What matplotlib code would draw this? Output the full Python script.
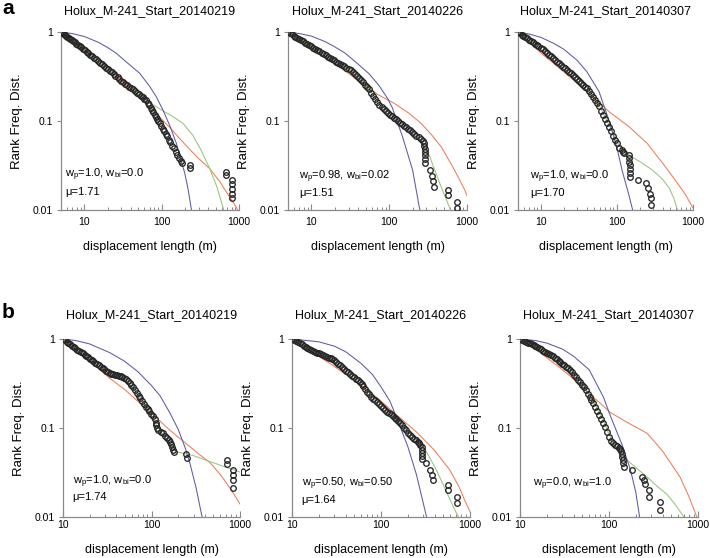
import matplotlib
matplotlib.use("Agg")
import matplotlib.pyplot as plt
from matplotlib.ticker import LogLocator, NullFormatter, FixedLocator, FixedFormatter, NullLocator

plt.rcParams['font.family'] = ['Liberation Sans', 'DejaVu Sans']
plt.rcParams['mathtext.fontset'] = 'custom'
plt.rcParams['mathtext.rm'] = 'Liberation Sans'
plt.rcParams['mathtext.it'] = 'Liberation Sans:italic'

# ---------------- data ----------------
titles = ["Holux_M-241_Start_20140219", "Holux_M-241_Start_20140226", "Holux_M-241_Start_20140307",
          "Holux_M-241_Start_20140219", "Holux_M-241_Start_20140226", "Holux_M-241_Start_20140307"]
weights_text = [r"w$_\mathregular{p}$=1.0, w$_\mathregular{bi}$=0.0",
                r"w$_\mathregular{p}$=0.98, w$_\mathregular{bi}$=0.02",
                r"w$_\mathregular{p}$=1.0, w$_\mathregular{bi}$=0.0",
                r"w$_\mathregular{p}$=1.0, w$_\mathregular{bi}$=0.0",
                r"w$_\mathregular{p}$=0.50, w$_\mathregular{bi}$=0.50",
                r"w$_\mathregular{p}$=0.0, w$_\mathregular{bi}$=1.0"]
mu_text = ["\u03bc=1.71", "\u03bc=1.51", "\u03bc=1.70", "\u03bc=1.74", "\u03bc=1.64", ""]
xtick_vals = [10, 100, 1000]
xtick_labels = ["10", "100", "1000"]
ytick_vals = [0.01, 0.1, 1]
ytick_labels = ["0.01", "0.1", "1"]
xlims = [(5, 1000), (5, 1000), (5, 1000), (10, 1000), (10, 1000), (10, 1000)]

a1_x = [5.0,5.2,5.4,5.6,5.8,6.0,6.3,6.6,6.9,7.2,7.5,7.9,8.3,8.7,9.1,9.6,
        10.1,10.7,11.3,12.0,12.7,13.4,14.2,15.0,15.9,16.8,17.8,18.9,20.0,21.2,22.5,23.9,25.3,26.9,28.5,30.2,32.0,
        34.0,36.0,38.2,40.5,43.0,45.5,48.0,51.0,54.0,57.0,60.0,63.0,
        66.0,69.0,72.0,75.0,78.0,81.0,84.0,87.0,90.0,94.0,
        98.0,103,108,113,118,124,130,137,144,152,160,168,176,182,
        231,233,676,680,800,803,805,803,800]
a1_y = [1.0,0.974,0.95,0.928,0.906,0.886,0.858,0.831,0.807,0.785,0.764,0.738,0.714,0.691,0.671,0.648,
        0.628,0.601,0.578,0.554,0.531,0.515,0.494,0.471,0.452,0.435,0.417,0.399,0.383,0.367,0.352,0.337,0.324,0.310,0.297,0.285,0.273,
        0.262,0.252,0.242,0.236,0.228,0.215,0.208,0.199,0.192,0.185,0.178,0.172,
        0.160,0.150,0.141,0.132,0.125,0.118,0.112,0.106,0.101,0.094,
        0.0885,0.0817,0.078,0.0707,0.068,0.061,0.058,0.0521,0.0495,0.0443,0.0415,0.038,0.0355,0.0334,
        0.032,0.0294,0.027,0.0247,0.0217,0.0194,0.0171,0.0151,0.0135]

a2_x = [5.0,5.3,5.6,5.9,6.2,6.6,7.0,7.4,7.8,8.3,8.8,9.3,9.9,
        10.5,11.2,11.9,12.7,13.5,14.4,15.3,16.3,17.3,18.4,
        19.6,20.8,22.1,23.5,25.0,26.5,28.2,30.0,
        31.9,33.9,36.0,38.3,40.7,43.3,46.0,48.9,52.0,
        55.3,58.8,62.5,66.4,70.6,75.0,
        79.7,84.7,90.0,95.7,102,108,115,
        122,130,138,147,156,166,176,187,199,211,224,238,253,269,
        281,284,285,286,286,287,288,
        331,355,363,380,575,578,735,738]
a2_y = [1.0,0.969,0.94,0.913,0.889,0.859,0.832,0.807,0.784,0.758,0.734,0.712,0.688,
        0.667,0.644,0.624,0.604,0.585,0.565,0.547,0.530,0.513,0.497,
        0.481,0.466,0.451,0.438,0.424,0.411,0.398,0.386,
        0.373,0.354,0.336,0.318,0.302,0.286,0.271,0.257,0.244,
        0.226,0.209,0.192,0.178,0.164,0.152,
        0.142,0.136,0.130,0.124,0.118,0.113,0.108,
        0.104,0.0997,0.096,0.0922,0.0888,0.0853,0.082,0.0785,0.075,0.0718,0.0687,0.0656,0.0628,0.060,
        0.057,0.053,0.049,0.045,0.041,0.037,0.034,
        0.028,0.024,0.021,0.0183,0.0168,0.0148,0.0124,0.0105]

a3_x = [5.0,5.3,5.6,5.9,6.2,6.6,7.0,7.4,7.8,8.3,8.8,9.3,9.9,
        10.5,11.2,11.9,12.7,13.5,14.4,15.3,16.3,17.3,
        18.4,19.6,20.8,22.1,23.5,25.0,26.5,28.2,
        30.0,31.9,33.9,36.0,38.3,40.7,
        43.3,46.0,48.9,52.0,55.3,58.8,
        62.5,66.4,70.6,75.0,79.7,
        84.7,90.0,95.7,100,
        108,115,120,125,
        145,146,146,147,147,148,148,
        189,244,256,269,278,284]
a3_y = [1.0,0.966,0.935,0.906,0.879,0.847,0.818,0.791,0.766,0.739,0.713,0.690,0.665,
        0.638,0.609,0.583,0.556,0.532,0.508,0.486,0.464,0.445,
        0.426,0.407,0.390,0.374,0.358,0.343,0.329,0.315,
        0.299,0.284,0.270,0.257,0.244,0.232,
        0.220,0.203,0.187,0.172,0.158,0.146,
        0.131,0.118,0.106,0.096,0.0863,
        0.0769,0.0685,0.0608,0.056,
        0.050,0.047,0.045,0.044,
        0.0417,0.038,0.035,0.032,0.029,0.026,0.0237,
        0.0217,0.020,0.0175,0.0153,0.0135,0.0113]

b1_x = [10.0,10.5,11.0,11.5,12.0,12.6,13.2,13.8,14.5,15.2,15.9,16.7,17.5,18.3,19.2,20.1,21.1,22.1,23.2,24.3,25.5,26.7,28.0,29.3,30.7,32.2,33.7,
        35.3,37.0,38.8,40.7,42.6,44.7,46.8,
        49.1,51.4,53.9,56.5,59.2,62.0,
        65.0,68.1,71.4,74.8,78.4,
        82.1,86.1,90.2,94.5,99.0,104,
        109,111,113,115,118,128,135,143,150,158,163,166,172,176,178,
        248,251,705,708,826,826,828,830]
b1_y = [1.0,0.965,0.933,0.903,0.875,0.845,0.816,0.790,0.762,0.737,0.713,0.688,0.665,0.643,0.621,0.601,0.580,0.561,0.541,0.523,0.505,0.488,0.472,0.456,0.441,0.426,0.412,
        0.406,0.402,0.397,0.392,0.388,0.383,0.379,
        0.368,0.351,0.335,0.319,0.304,0.290,
        0.269,0.250,0.231,0.215,0.199,
        0.185,0.174,0.163,0.154,0.144,0.135,
        0.125,0.115,0.108,0.100,0.095,0.090,0.087,0.082,0.078,0.074,0.070,0.066,0.061,0.057,0.054,
        0.0516,0.0466,0.0434,0.039,0.034,0.030,0.0258,0.0214]

b2_x = [10.0,10.5,11.0,11.6,12.2,12.8,13.5,14.2,14.9,15.7,16.5,
        17.3,18.2,19.1,20.1,21.1,22.2,23.3,24.5,25.8,27.1,28.5,30.0,
        31.5,33.1,34.8,36.6,38.5,
        40.5,42.6,44.8,47.1,49.5,52.0,54.7,57.5,60.4,
        63.5,66.8,70.2,73.8,77.6,
        81.6,85.8,90.2,94.8,99.7,105,110,
        116,122,128,135,142,149,
        157,165,173,182,191,201,
        211,222,233,245,258,265,
        274,286,286,287,287,288,
        324,355,372,380,570,572,720,722]
b2_y = [1.0,0.972,0.947,0.919,0.893,0.869,0.843,0.819,0.797,0.773,0.752,
        0.736,0.720,0.705,0.689,0.675,0.660,0.646,0.632,0.618,0.604,0.591,0.580,
        0.555,0.530,0.506,0.483,0.461,
        0.442,0.423,0.405,0.388,0.372,0.357,0.342,0.328,0.315,
        0.294,0.275,0.257,0.241,0.225,
        0.214,0.204,0.194,0.185,0.176,0.167,0.160,
        0.153,0.147,0.142,0.137,0.131,0.127,
        0.121,0.114,0.107,0.1005,0.0946,0.0887,
        0.0842,0.080,0.0762,0.0725,0.0689,0.067,
        0.064,0.061,0.057,0.053,0.049,0.045,
        0.040,0.0335,0.0295,0.026,0.0227,0.020,0.0168,0.0144]

b3_x = [10.0,10.5,11.0,11.6,12.2,12.8,13.5,14.2,14.9,
        15.7,16.5,17.3,18.2,19.1,20.1,21.1,22.2,23.3,
        24.5,25.8,27.1,28.5,30.0,31.5,33.1,34.8,36.6,
        38.5,40.5,42.6,44.8,47.1,49.5,
        52.0,54.7,57.5,60.4,63.5,66.8,
        70.2,73.8,77.6,81.6,85.8,
        90.2,94.8,99.7,104,
        110,116,123,128,134,138,140,141,142,144,146,
        181,234,245,256,279,280,377,378]
b3_y = [1.0,0.978,0.957,0.934,0.913,0.893,0.871,0.851,0.833,
        0.811,0.786,0.764,0.741,0.719,0.697,0.677,0.656,0.637,
        0.615,0.590,0.568,0.546,0.525,0.505,0.486,0.467,0.450,
        0.422,0.395,0.371,0.348,0.326,0.306,
        0.287,0.264,0.243,0.224,0.206,0.190,
        0.172,0.156,0.141,0.127,0.115,
        0.102,0.090,0.0793,0.0711,
        0.067,0.064,0.062,0.060,0.058,0.055,0.051,0.047,0.044,0.040,0.036,
        0.0335,0.028,0.0258,0.0237,0.020,0.0168,0.0147,0.0121]

# fitted curves (blue, green, red)
a1_blue_x = [5,7,10,15,20,26,35,52,70,85,104,130,155,180,199,220,243,250]
a1_blue_y = [1,0.96,0.89,0.77,0.67,0.576,0.46,0.344,0.245,0.188,0.133,0.085,0.056,0.035,0.026,0.017,0.0100,0.0085]
a1_green_x = [5,7,10,15,20,30,40,50,63,80,104,140,189,250,320,420,520,625,650]
a1_green_y = [1,0.8,0.64,0.49,0.4,0.3,0.24,0.2,0.172,0.15,0.13,0.112,0.094,0.07,0.048,0.029,0.018,0.0105,0.009]
a1_red_x = [5,10,20,40,60,77,100,130,162,220,300,420,560,720,935,1000]
a1_red_y = [1,0.62,0.38,0.23,0.165,0.133,0.105,0.083,0.067,0.05,0.038,0.029,0.021,0.015,0.0105,0.0095]

a2_blue_x = [5,7,10,15,20,27,37,55,74,95,110,148,200,245,260]
a2_blue_y = [1,0.96,0.9,0.78,0.68,0.58,0.46,0.34,0.25,0.18,0.14,0.067,0.028,0.0105,0.0085]
a2_green_x = [5,10,20,32,52,78,116,173,259,331,446,600,620]
a2_green_y = [1,0.69,0.48,0.375,0.245,0.15,0.108,0.083,0.058,0.04,0.02,0.0105,0.0095]
a2_red_x = [5,10,20,35,52,70,116,180,257,350,468,650,800,935,1000]
a2_red_y = [1,0.66,0.44,0.31,0.243,0.2,0.158,0.122,0.094,0.07,0.051,0.031,0.022,0.0168,0.0145]

a3_blue_x = [5,7,10,15,20,30,40,58,79,100,118,140,161,165]
a3_blue_y = [1,0.95,0.87,0.74,0.64,0.48,0.36,0.215,0.1,0.05,0.027,0.016,0.01,0.0093]
a3_green_x = [5,7,10,15,20,30,43,59,80,100,108,145,200,295,400,490,560,630,650]
a3_green_y = [1,0.88,0.7,0.52,0.42,0.31,0.225,0.148,0.088,0.06,0.052,0.041,0.035,0.028,0.022,0.0175,0.0135,0.0098,0.009]
a3_red_x = [5,7,10,15,23.7,35,53,80,145,250,400,600,800,1000]
a3_red_y = [1,0.77,0.58,0.44,0.315,0.235,0.172,0.126,0.086,0.056,0.0335,0.021,0.0148,0.0105]

b1_blue_x = [10,14,20,34,50,70,100,125,160,200,240,272,320,369,380]
b1_blue_y = [1,0.96,0.88,0.7,0.56,0.43,0.3,0.23,0.15,0.097,0.06,0.04,0.021,0.0105,0.0095]
b1_green_x = [10,14,20,34,50,60,80,105,140,191,296,456,770,1000]
b1_green_y = [1,0.83,0.65,0.44,0.34,0.29,0.2,0.123,0.08,0.054,0.049,0.042,0.035,0.032]
b1_red_x = [10,20,34,50,74,100,162,250,350,456,600,800,1000]
b1_red_y = [1,0.565,0.36,0.27,0.19,0.147,0.094,0.066,0.05,0.041,0.03,0.02,0.014]

b2_blue_x = [10,20,30,40,60,80,100,126,150,200,250,300,325,335]
b2_blue_y = [1,0.93,0.83,0.72,0.53,0.4,0.29,0.2,0.13,0.062,0.03,0.014,0.01,0.0088]
b2_green_x = [10,15,20,30,40,60,80,111,155,204,251,320,400,457,560,650,760]
b2_green_y = [1,0.8,0.69,0.55,0.46,0.33,0.245,0.17,0.12,0.09,0.073,0.055,0.037,0.028,0.018,0.013,0.0095]
b2_red_x = [10,20,30,45,65,97,150,251,400,596,750,870,1000]
b2_red_y = [1,0.64,0.49,0.37,0.28,0.206,0.14,0.09,0.056,0.0335,0.022,0.0155,0.0115]

b3_blue_x = [10,15,20,30,40,60,87,100,120,140,174,200,219,222]
b3_blue_y = [1,0.96,0.9,0.77,0.64,0.45,0.22,0.15,0.095,0.065,0.034,0.019,0.0105,0.0095]
b3_green_x = [10,15,23.7,36.6,51.6,67,87,100,112,150,200,269,350,447,550,650,725]
b3_green_y = [1,0.84,0.64,0.46,0.3,0.2,0.12,0.085,0.067,0.046,0.036,0.028,0.022,0.018,0.014,0.011,0.0095]
b3_red_x = [10,15.4,25,37,55,80,103,150,269,400,630,800,935,1000]
b3_red_y = [1,0.75,0.52,0.38,0.26,0.189,0.15,0.12,0.087,0.055,0.028,0.0165,0.011,0.0092]

points = [(a1_x, a1_y), (a2_x, a2_y), (a3_x, a3_y), (b1_x, b1_y), (b2_x, b2_y), (b3_x, b3_y)]
blues = [(a1_blue_x, a1_blue_y), (a2_blue_x, a2_blue_y), (a3_blue_x, a3_blue_y),
         (b1_blue_x, b1_blue_y), (b2_blue_x, b2_blue_y), (b3_blue_x, b3_blue_y)]
greens = [(a1_green_x, a1_green_y), (a2_green_x, a2_green_y), (a3_green_x, a3_green_y),
          (b1_green_x, b1_green_y), (b2_green_x, b2_green_y), (b3_green_x, b3_green_y)]
reds = [(a1_red_x, a1_red_y), (a2_red_x, a2_red_y), (a3_red_x, a3_red_y),
        (b1_red_x, b1_red_y), (b2_red_x, b2_red_y), (b3_red_x, b3_red_y)]

for grp in (points, blues, greens, reds):
    for xs, ys in grp:
        assert len(xs) == len(ys), (len(xs), len(ys))

# ---------------- layout (pixel boxes: left, right, top, bottom) ----------------
W, H = 710, 558
boxes = [(61, 239, 32, 210), (288, 467, 32, 210), (518, 693, 32, 210),
         (63, 240, 339, 517), (292, 470, 339, 517), (520, 698, 339, 517)]
text_pos = [(0.022, 0.197, 0.103), (0.063, 0.187, 0.094), (0.069, 0.187, 0.094),
            (0.054, 0.198, 0.114), (0.054, 0.189, 0.096), (0.075, 0.189, 0.096)]

BLUE = '#5b5ba6'
GREEN = '#97c47a'
RED = '#ee7d57'
SPINE = '#8a8a8a'

fig = plt.figure(figsize=(W / 100, H / 100), dpi=100)

for i in range(6):
    l, r, t, b = boxes[i]
    ax = fig.add_axes([l / W, (H - b) / H, (r - l) / W, (b - t) / H])
    ax.set_xscale('log')
    ax.set_yscale('log')
    bx, by = blues[i]
    gx, gy = greens[i]
    rx, ry = reds[i]
    ax.plot(rx, ry, color=RED, lw=0.75, zorder=2)
    ax.plot(gx, gy, color=GREEN, lw=0.75, zorder=2)
    ax.plot(bx, by, color=BLUE, lw=0.75, zorder=2)
    px, py = points[i]
    ax.plot(px, py, linestyle='none', marker='o', markersize=4.0, markerfacecolor='none',
            markeredgecolor='#242424', markeredgewidth=0.95, zorder=3)
    ax.set_xlim(*xlims[i])
    ax.set_ylim(0.01, 1)
    for s in ('top', 'right'):
        ax.spines[s].set_visible(False)
    for s in ('left', 'bottom'):
        ax.spines[s].set_color(SPINE)
        ax.spines[s].set_linewidth(0.9)
    ax.xaxis.set_major_locator(FixedLocator(xtick_vals))
    ax.xaxis.set_major_formatter(FixedFormatter(xtick_labels))
    ax.xaxis.set_minor_locator(LogLocator(base=10, subs=range(2, 10)))
    ax.xaxis.set_minor_formatter(NullFormatter())
    ax.yaxis.set_major_locator(FixedLocator(ytick_vals))
    ax.yaxis.set_major_formatter(FixedFormatter(ytick_labels))
    ax.yaxis.set_minor_locator(NullLocator())
    xpad = 5 if i < 3 else 2.5
    ax.tick_params(axis='x', which='major', direction='in', length=4, width=0.8,
                   color=SPINE, labelsize=7.5, pad=xpad)
    ax.tick_params(axis='x', which='minor', direction='in', length=2.5, width=0.7, color=SPINE)
    ax.tick_params(axis='y', which='major', direction='out', length=3, width=0.8,
                   color=SPINE, labelsize=7.5, pad=3)
    ax.set_title(titles[i], fontsize=9, pad=13 if i < 3 else 15)
    ax.set_xlabel("displacement length (m)", fontsize=9)
    ax.xaxis.set_label_coords(0.5, -0.174 if i < 3 else -0.152)
    ax.set_ylabel("Rank Freq. Dist.", fontsize=9.5)
    ax.yaxis.set_label_coords(-0.215, 0.5)
    tx, ty1, ty2 = text_pos[i]
    ax.text(tx, ty1, weights_text[i], transform=ax.transAxes, fontsize=8, va='center', ha='left')
    if mu_text[i]:
        ax.text(tx, ty2, mu_text[i], transform=ax.transAxes, fontsize=8, va='center', ha='left')

fig.text(2 / W, 1 - 14 / H, 'a', fontsize=15, fontweight='bold', va='baseline', ha='left')
fig.text(2 / W, 1 - 318 / H, 'b', fontsize=15, fontweight='bold', va='baseline', ha='left')

fig.savefig('out.png', dpi=100)
